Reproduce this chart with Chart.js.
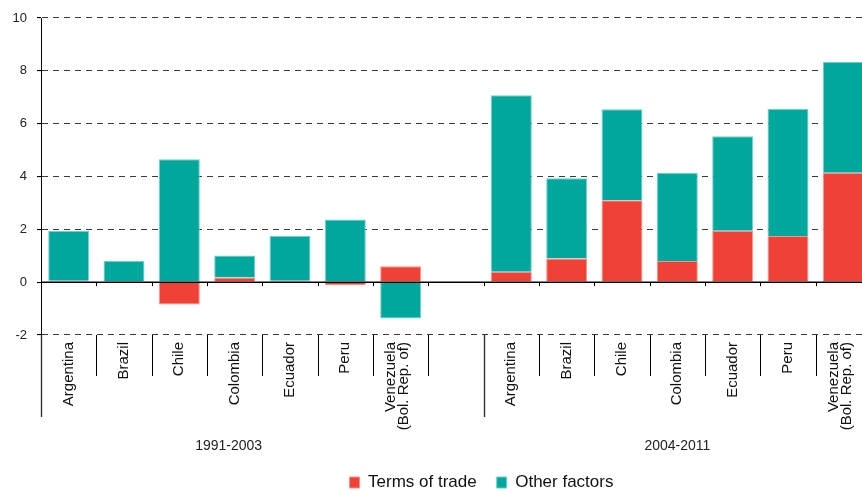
<!DOCTYPE html>
<html>
<head>
<meta charset="utf-8">
<script src="https://cdn.jsdelivr.net/npm/chart.js@4"></script>
<style>
  html, body { margin:0; padding:0; overflow:hidden; background:#fff; }
  #wrap { position:relative; width:872px; height:491px; }
  canvas { display:block; }
</style>
</head>
<body>
<div id="wrap"><canvas id="c" width="872" height="491"></canvas></div>
<script>
const categories = [
  'Argentina','Brazil','Chile','Colombia','Ecuador','Peru',['Venezuela','(Bol. Rep. of)'],
  '',
  'Argentina','Brazil','Chile','Colombia','Ecuador','Peru',['Venezuela','(Bol. Rep. of)']
];
const termsOfTrade = [0.05, 0.0, -0.85, 0.18, 0.05, -0.12, 0.6, null, 0.39, 0.9, 3.1, 0.8, 1.95, 1.75, 4.14];
const otherFactors = [1.9, 0.8, 4.65, 0.83, 1.7, 2.37, -1.38, null, 6.69, 3.03, 3.45, 3.34, 3.57, 4.81, 4.2];
const periods = ['1991-2003', '2004-2011'];
const periodStart = [0, 8];
const periodEnd = [7, 15];
const yMin = -2, yMax = 10, yStep = 2;

const RED = '#EF4136', TEAL = '#00A79D';
const FONT = "'Liberation Sans', Arial, Helvetica, sans-serif";

const decor = {
  id: 'decor',
  afterLayout(chart) {
    const lg = chart.legend;
    if (lg) { lg.left += 46; lg.right += 46; lg.top += 10; lg.bottom += 10; }
  },
  beforeDraw(chart) {
    // centre two-line rotated category labels on their slot
    const xs = chart.scales.x;
    const items = xs.getLabelItems(chart.chartArea);
    items.forEach(it => {
      if (Array.isArray(it.label) && !it._centred) {
        it.textOffset -= it.font.lineHeight * (it.label.length - 1) / 2 + 3;
        it._centred = true;
      }
    });
  },
  afterDatasetsDraw(chart) {
    const {ctx, chartArea, scales:{x, y}} = chart;
    const y0 = y.getPixelForValue(0);
    const slot = x.getPixelForValue(1) - x.getPixelForValue(0);
    const start = x.getPixelForValue(0) - slot / 2;
    ctx.save();
    ctx.strokeStyle = '#000';
    ctx.lineWidth = 1.5;
    ctx.beginPath();
    ctx.moveTo(chartArea.left, y0);
    ctx.lineTo(chartArea.right, y0);
    ctx.stroke();
    ctx.lineWidth = 1;
    ctx.beginPath();
    for (let i = 1; i < categories.length; i++) {
      const bx = Math.round(start + i * slot) + 0.5;
      ctx.moveTo(bx, y0);
      ctx.lineTo(bx, y0 + 4);
    }
    ctx.stroke();
    ctx.restore();
  },
  afterDraw(chart) {
    const {ctx, chartArea, scales:{x}} = chart;
    const slot = x.getPixelForValue(1) - x.getPixelForValue(0);
    const start = x.getPixelForValue(0) - slot / 2;
    const bottom = chartArea.bottom;
    ctx.save();
    for (let i = 0; i <= categories.length; i++) {
      const bx = Math.round(start + i * slot) + 0.5;
      const isLong = periodStart.includes(i);
      ctx.strokeStyle = isLong ? '#333' : '#000';
      ctx.lineWidth = isLong ? 1.4 : 1;
      ctx.beginPath();
      ctx.moveTo(bx, bottom);
      ctx.lineTo(bx, bottom + (isLong ? 82 : 41));
      ctx.stroke();
    }
    ctx.fillStyle = '#222';
    ctx.font = '14px ' + FONT;
    ctx.textAlign = 'center';
    ctx.textBaseline = 'middle';
    periods.forEach((p, k) => {
      const a = start + periodStart[k] * slot;
      const b = start + periodEnd[k] * slot;
      const cx = (a + b) / 2 - (k === 0 ? 6 : 0);
      ctx.fillText(p, cx, bottom + 111);
    });
    ctx.restore();
  }
};

new Chart(document.getElementById('c'), {
  type: 'bar',
  data: {
    labels: categories,
    datasets: [
      { label: 'Terms of trade', data: termsOfTrade, backgroundColor: RED, borderColor: '#f7928b', borderWidth: 1 },
      { label: 'Other factors', data: otherFactors, backgroundColor: TEAL, borderColor: '#6fd0c8', borderWidth: 1 }
    ]
  },
  options: {
    responsive: false,
    maintainAspectRatio: false,
    animation: false,
    layout: { padding: { top: 18, right: 1, left: 0, bottom: 0 } },
    datasets: { bar: { categoryPercentage: 1, barPercentage: 0.74 } },
    plugins: {
      tooltip: { enabled: false },
      legend: {
        position: 'bottom',
        labels: {
          font: { family: FONT, size: 17 },
          color: '#111',
          boxWidth: 10,
          boxHeight: 11,
          padding: 20
        }
      }
    },
    scales: {
      x: {
        stacked: true,
        grid: { display: false, drawTicks: false },
        border: { display: false },
        ticks: {
          autoSkip: false,
          minRotation: 90,
          maxRotation: 90,
          padding: 7,
          color: '#111',
          font: { family: FONT, size: 15, lineHeight: 0.85 }
        },
        afterFit(scale) { scale.height = 109; scale.paddingLeft = 0; scale.paddingRight = 0; }
      },
      y: {
        stacked: true,
        min: yMin,
        max: yMax,
        grid: {
          color: '#3a3a3a',
          lineWidth: 1.1,
          tickLength: 4,
          tickColor: '#000',
          tickBorderDash: []
        },
        border: { display: true, color: '#000', width: 1, dash: [6, 5] },
        ticks: {
          stepSize: yStep,
          padding: 10,
          color: '#222',
          font: { family: FONT, size: 13 }
        },
        afterFit(scale) { scale.width = 41; }
      }
    }
  },
  plugins: [decor]
});
</script>
</body>
</html>
